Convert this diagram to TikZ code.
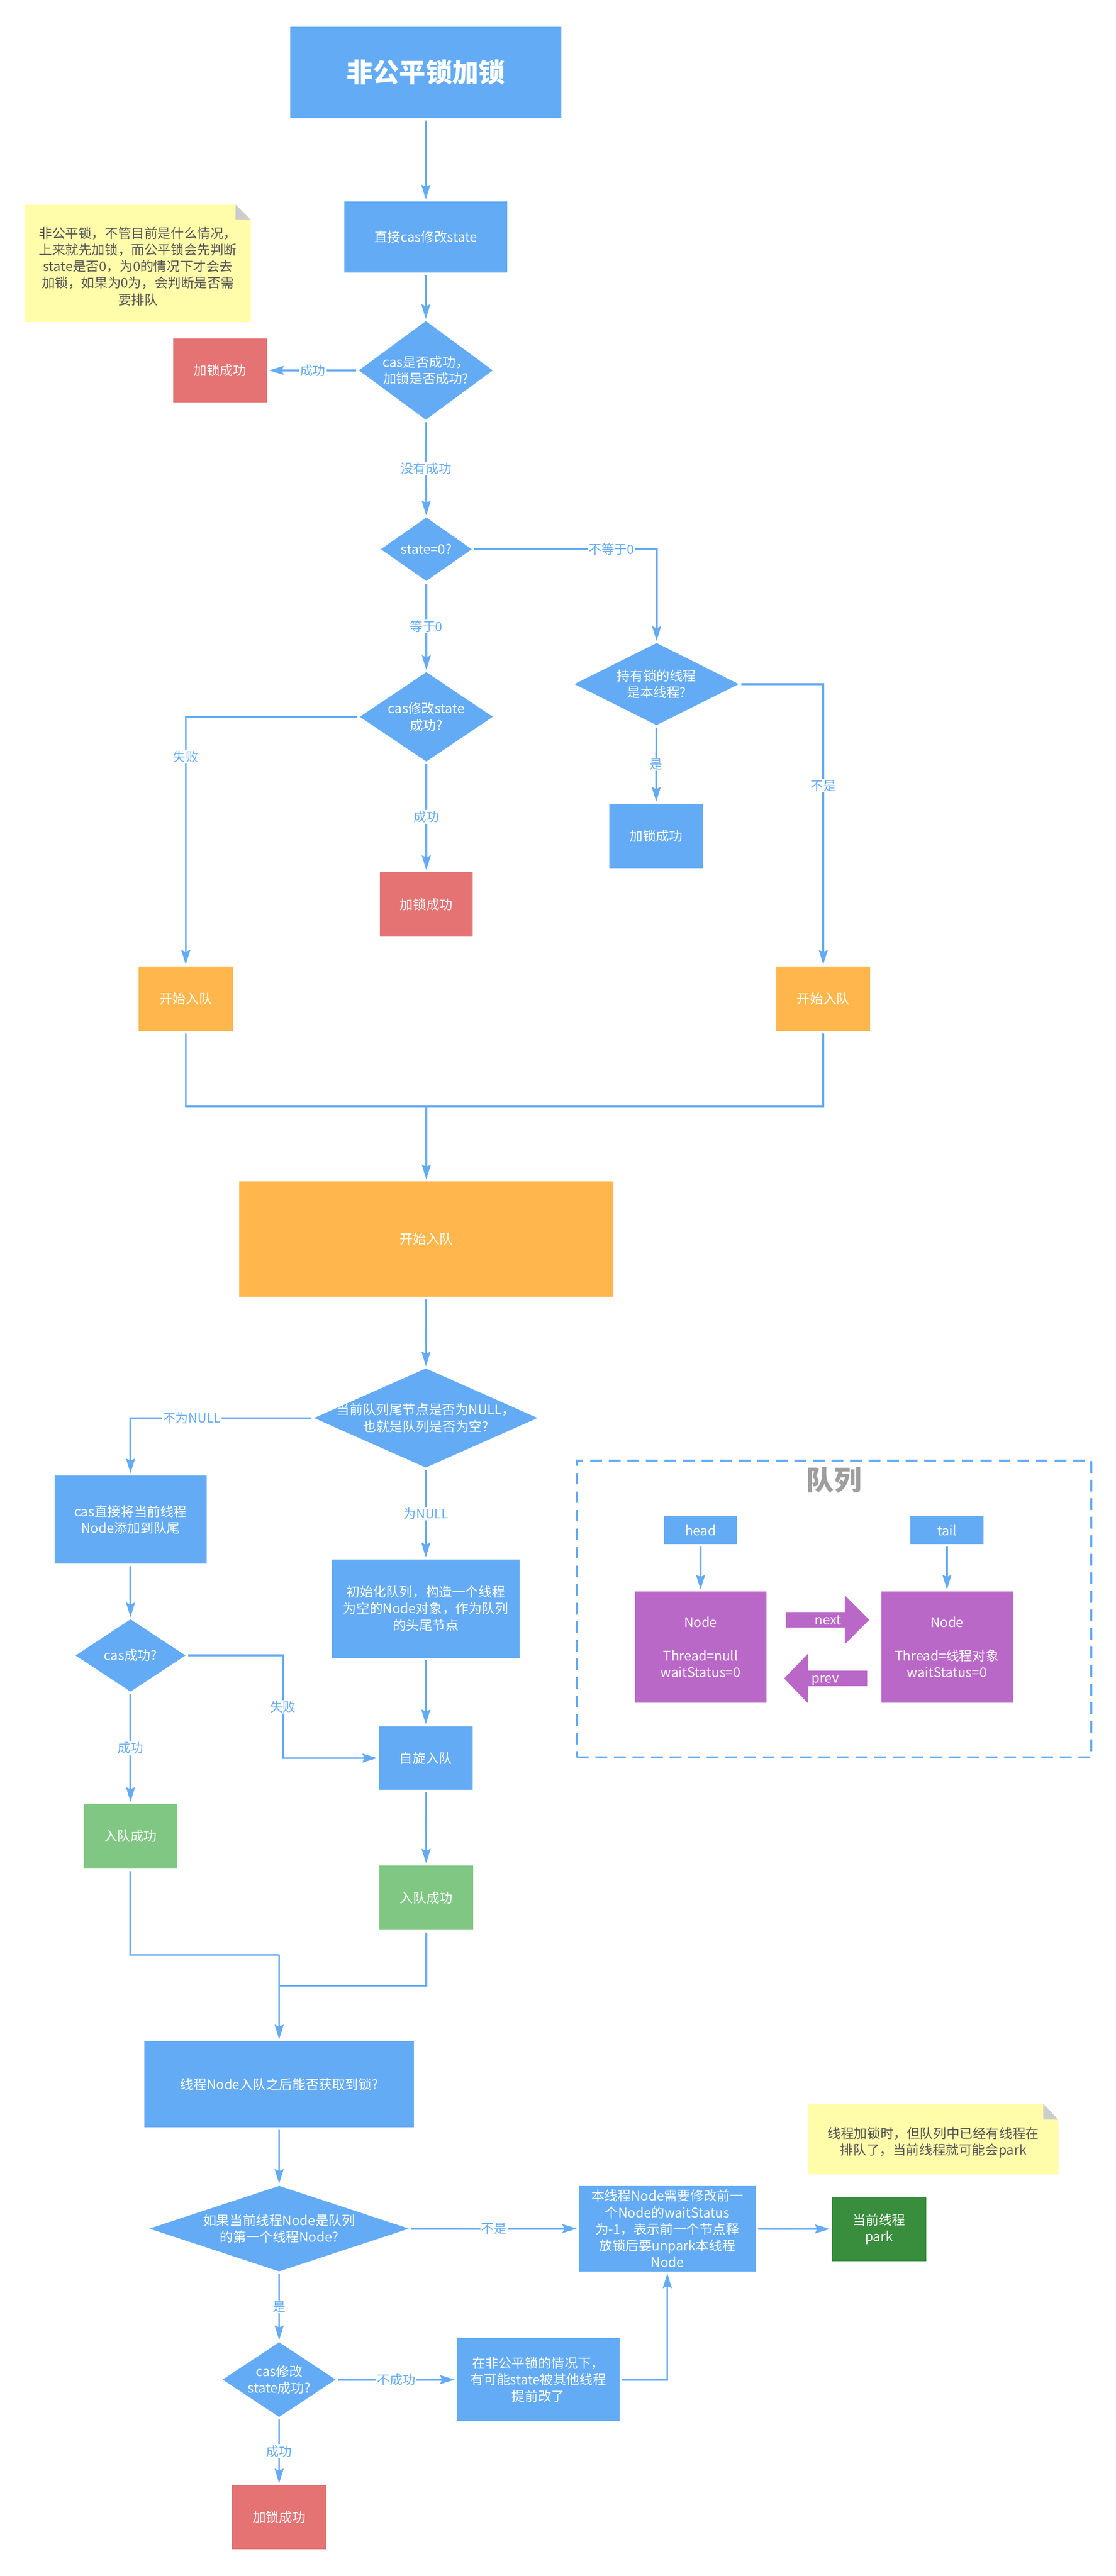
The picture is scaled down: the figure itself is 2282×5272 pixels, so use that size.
\documentclass[tikz,border=0pt]{standalone}
\usepackage{fontspec}
\setmainfont{Noto Sans CJK SC}
\usetikzlibrary{arrows.meta,shapes.geometric,calc}
\definecolor{blu}{HTML}{64ABF5}
\definecolor{org}{HTML}{FFB74D}
\definecolor{redb}{HTML}{E57373}
\definecolor{grn}{HTML}{81C784}
\definecolor{dgrn}{HTML}{388E3C}
\definecolor{pur}{HTML}{BA68C8}
\definecolor{notey}{HTML}{FFFCAA}
\definecolor{foldg}{HTML}{CCCCCC}
\definecolor{notet}{HTML}{555555}
\definecolor{qgray}{HTML}{9E9E9E}
\begin{document}
\begin{tikzpicture}[x=1pt,y=-1pt,
  every node/.style={font=\fontsize{27}{34}\selectfont, inner sep=0pt, align=center},
  sz/.style 2 args={minimum width=#1pt, minimum height=#2pt},
  box/.style={rectangle, fill=blu, text=white},
  redbox/.style={rectangle, fill=redb, text=white},
  orgbox/.style={rectangle, fill=org, text=white},
  grnbox/.style={rectangle, fill=grn, text=white},
  dgrnbox/.style={rectangle, fill=dgrn, text=white},
  purbox/.style={rectangle, fill=pur, text=white},
  dia/.style={diamond, fill=blu},
  wt/.style={text=white},
  notetext/.style={text=notet},
  ln/.style={draw=blu, line width=3.8pt, shorten <=5pt},
  arr/.style={draw=blu, line width=3.8pt, shorten <=5pt, shorten >=4pt, -{Stealth[length=30pt,width=18pt,inset=4pt]}},
  arr0/.style={draw=blu, line width=3.8pt, shorten >=4pt, -{Stealth[length=30pt,width=18pt,inset=4pt]}},
  lbl/.style={font=\fontsize{26}{30}\selectfont, text=blu, fill=white, inner sep=2pt},
  qbox/.style={rectangle, draw=blu, line width=4pt, dash pattern=on 24pt off 14pt}
]
\useasboundingbox (0,0) rectangle (2282,5272);
\fill[white] (0,0) rectangle (2282,5272);

% notes
\fill[notey] (50,419) -- (482,419) -- (513,450) -- (513,659) -- (50,659) -- cycle;
\fill[foldg] (482,419) -- (513,450) -- (482,450) -- cycle;
\node[notetext] (note1) at (282,545) {非公平锁，不管目前是什么情况，\\上来就先加锁，而公平锁会先判断\\state是否0，为0的情况下才会去\\加锁，如果为0为，会判断是否需\\要排队};

\fill[notey] (1653,4306) -- (2134,4306) -- (2165,4338) -- (2165,4450) -- (1653,4450) -- cycle;
\fill[foldg] (2134,4306) -- (2165,4338) -- (2134,4338) -- cycle;
\node[notetext] (note2) at (1909,4385) {线程加锁时，但队列中已经有线程在\\排队了，当前线程就可能会park};

% top section
\node[box, sz={554}{187}, font=\fontsize{54}{60}\selectfont\bfseries] (t0) at (871,148) {非公平锁加锁};
\node[box, sz={333}{145}] (b1) at (871,485) {直接cas修改state};
\node[dia, sz={274}{202}] (d1) at (871,758) {};
\node[wt] (d1t) at (871,758) {cas是否成功，\\加锁是否成功?};
\node[redbox, sz={192}{131}] (r1) at (450,758) {加锁成功};
\node[dia, sz={186}{130}] (d2) at (872,1124) {};
\node[wt] (d2t) at (872,1124) {state=0?};
\node[dia, sz={336}{168}] (d3) at (1343,1400) {};
\node[wt] (d3t) at (1343,1400) {持有锁的线程\\是本线程?};
\node[dia, sz={272}{183}] (d4) at (872,1467) {};
\node[wt] (d4t) at (872,1467) {cas修改state\\成功?};
\node[redbox, sz={190}{132}] (r2) at (872,1851) {加锁成功};
\node[box, sz={192}{132}] (b2) at (1342,1711) {加锁成功};
\node[orgbox, sz={193}{131}] (o1) at (380,2044) {开始入队};
\node[orgbox, sz={192}{131}] (o2) at (1684,2044) {开始入队};
\coordinate (m1) at (872,2264);
\node[orgbox, sz={765}{236}] (o3) at (872,2536) {开始入队};

% middle section
\node[dia, sz={457}{203}] (d5) at (871,2902) {};
\node[wt] (d5t) at (871,2902) {当前队列尾节点是否为NULL，\\也就是队列是否为空?};
\node[box, sz={311}{181}] (b3) at (267,3110) {cas直接将当前线程\\Node添加到队尾};
\node[dia, sz={225}{148}] (d6) at (267,3388) {};
\node[wt] (d6t) at (267,3388) {cas成功?};
\node[box, sz={383}{201}] (b4) at (871,3292) {初始化队列，构造一个线程\\为空的Node对象，作为队列\\的头尾节点};
\node[box, sz={191}{130}] (b5) at (871,3598) {自旋入队};
\node[grnbox, sz={191}{132}] (g1) at (267,3758) {入队成功};
\node[grnbox, sz={192}{132}] (g2) at (872,3884) {入队成功};
\coordinate (m2) at (571,4001);
\coordinate (m3) at (571,4064);

% queue panel
\node[qbox, sz={1052}{607}] (qb) at (1706,3292.5) {};
\node[text=qgray, font=\fontsize{56}{60}\selectfont\bfseries] (qt) at (1706,3029) {队列};
\node[box, sz={149}{57}] (head) at (1433,3132) {head};
\node[box, sz={149}{57}] (tail) at (1937,3132) {tail};
\node[purbox, sz={269}{227}] (n1) at (1433,3371) {Node\\[34pt]Thread=null\\waitStatus=0};
\node[purbox, sz={269}{227}] (n2) at (1937,3371) {Node\\[34pt]Thread=线程对象\\waitStatus=0};
\fill[pur] (1608,3299) -- (1728,3299) -- (1728,3265) -- (1778,3315) -- (1728,3365) -- (1728,3331) -- (1608,3331) -- cycle;
\node[wt] (nxt) at (1694,3316) {next};
\fill[pur] (1774,3419) -- (1653,3419) -- (1653,3384) -- (1604,3435) -- (1653,3486) -- (1653,3451) -- (1774,3451) -- cycle;
\node[wt] (prv) at (1688,3440) {prev};

% bottom section
\node[box, sz={551}{176}] (b6) at (571,4266) {线程Node入队之后能否获取到锁?};
\node[dia, sz={531}{175}] (d7) at (571,4561) {};
\node[wt] (d7t) at (571,4561) {如果当前线程Node是队列\\的第一个线程Node?};
\node[box, sz={361}{175}] (b7) at (1365,4561) {本线程Node需要修改前一\\个Node的waitStatus\\为-1，表示前一个节点释\\放锁后要unpark本线程\\Node};
\node[dgrnbox, sz={193}{132}] (g3) at (1798,4562) {当前线程\\park};
\node[dia, sz={231}{153}] (d8) at (571,4870) {};
\node[wt] (d8t) at (571,4870) {cas修改\\state成功?};
\node[box, sz={333}{170}] (b8) at (1101,4870) {在非公平锁的情况下，\\有可能state被其他线程\\提前改了};
\node[redbox, sz={192}{131}] (r3) at (571,5152) {加锁成功};

% connectors
\draw[arr] (t0) -- (b1);
\draw[arr] (b1) -- (d1);
\draw[arr] (d1) -- node[lbl]{成功} (r1);
\draw[arr] (d1) -- node[lbl]{没有成功} (d2);
\draw[arr] (d2.east) -| node[lbl,pos=0.378]{不等于0} (d3.north);
\draw[arr] (d2) -- node[lbl]{等于0} (d4);
\draw[arr] (d4.west) -| node[lbl,pos=0.58]{失败} (o1.north);
\draw[arr] (d4) -- node[lbl]{成功} (r2);
\draw[arr] (d3) -- node[lbl]{是} (b2);
\draw[arr] (d3.east) -| node[lbl,pos=0.68]{不是} (o2.north);
\draw[ln] (o1.south) |- (m1);
\draw[ln] (o2.south) |- (m1);
\draw[arr0] (m1) -- (o3);
\draw[arr] (o3) -- (d5);
\draw[arr] (d5.west) -| node[lbl,pos=0.333]{不为NULL} (b3.north);
\draw[arr] (d5) -- node[lbl]{为NULL} (b4);
\draw[arr] (b3) -- (d6);
\draw[arr] (d6.east) -- ++(199,0) |- node[lbl,pos=0.25]{失败} (b5.west);
\draw[arr] (b4) -- (b5);
\draw[arr] (d6) -- node[lbl]{成功} (g1);
\draw[arr] (b5) -- (g2);
\draw[ln] (g1.south) |- (m2);
\draw[ln] (g2.south) |- (m3);
\draw[arr0] (m2) -- (b6);
\draw[arr] (b6) -- (d7);
\draw[arr] (d7) -- node[lbl]{不是} (b7);
\draw[arr] (b7) -- (g3);
\draw[arr] (d7) -- node[lbl]{是} (d8);
\draw[arr] (d8) -- node[lbl]{不成功} (b8);
\draw[arr] (d8) -- node[lbl]{成功} (r3);
\draw[arr] (b8.east) -| (b7.south);
\draw[arr] (head) -- (n1);
\draw[arr] (tail) -- (n2);
\end{tikzpicture}
\end{document}
